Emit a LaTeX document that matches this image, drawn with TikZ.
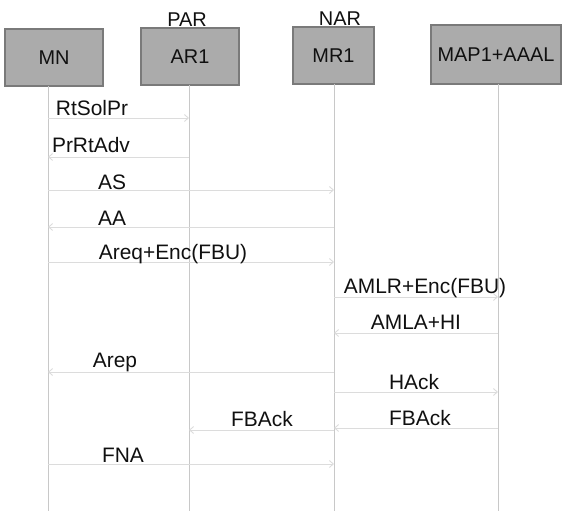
\documentclass[tikz,border=0pt]{standalone}
\usepackage{fontspec}
\setmainfont{Liberation Sans}
\usetikzlibrary{arrows.meta}
\definecolor{boxfill}{HTML}{ABABAB}
\definecolor{boxline}{HTML}{7A7A7A}
\definecolor{lifegray}{HTML}{C8C8C8}
\definecolor{msggray}{HTML}{DCDCDC}
\definecolor{ink}{HTML}{101010}
\begin{document}
\begin{tikzpicture}[x=1bp,y=-1bp,
  box/.style={draw=boxline, fill=boxfill, line width=1.2bp, inner sep=0pt, text=ink, font=\fontsize{20}{23}\selectfont},
  life/.style={draw=lifegray, line width=0.9bp},
  msg/.style={draw=msggray, line width=0.9bp, -{Straight Barb[length=4bp,width=7bp]}},
  lbl/.style={inner sep=0pt, text=ink, font=\fontsize{21}{24}\selectfont},
  role/.style={inner sep=0pt, text=ink, font=\fontsize{20}{23}\selectfont}]
\useasboundingbox (0,0) rectangle (564,511);
% participants
\node[box, minimum width=98bp, minimum height=57bp] (mn) at (54,57.5) {MN};
\node[box, minimum width=98bp, minimum height=57bp] (ar) at (190,56.5) {AR1};
\node[box, minimum width=81bp, minimum height=57bp] (mr) at (333.5,55.5) {MR1};
\node[box, minimum width=130bp, minimum height=59bp] (map) at (496,54.5) {MAP1+AAAL};
\node[role] (par) at (187,20) {PAR};
\node[role] (nar) at (340,19) {NAR};
% lifelines
\coordinate (mnL) at (48,86);   \coordinate (mnB) at (48,511);
\coordinate (arL) at (189,85);  \coordinate (arB) at (189,511);
\coordinate (mrL) at (334,84);  \coordinate (mrB) at (334,511);
\coordinate (mapL) at (498,84); \coordinate (mapB) at (498,511);
\draw[life] (mnL) -- (mnB);
\draw[life] (arL) -- (arB);
\draw[life] (mrL) -- (mrB);
\draw[life] (mapL) -- (mapB);
% messages
\draw[msg] (mnL |- 0,118) -- (arL |- 0,118);
\draw[msg] (arL |- 0,157) -- (mnL |- 0,157);
\draw[msg] (mnL |- 0,190) -- (mrL |- 0,190);
\draw[msg] (mrL |- 0,227) -- (mnL |- 0,227);
\draw[msg] (mnL |- 0,262) -- (mrL |- 0,262);
\draw[msg] (mrL |- 0,297) -- (mapL |- 0,297);
\draw[msg] (mapL |- 0,333) -- (mrL |- 0,333);
\draw[msg] (mrL |- 0,372) -- (mnL |- 0,372);
\draw[msg] (mrL |- 0,392) -- (mapL |- 0,392);
\draw[msg] (mapL |- 0,428) -- (mrL |- 0,428);
\draw[msg] (mrL |- 0,430) -- (arL |- 0,430);
\draw[msg] (mnL |- 0,464) -- (mrL |- 0,464);
% labels
\node[lbl] (l1) at (92,108) {RtSolPr};
\node[lbl] (l2) at (91,145) {PrRtAdv};
\node[lbl] (l3) at (112,182) {AS};
\node[lbl] (l4) at (112,218) {AA};
\node[lbl] (l5) at (173,254) {Areq+Enc(FBU)};
\node[lbl] (l6) at (425,288) {AMLR+Enc(FBU)};
\node[lbl] (l7) at (416,322) {AMLA+HI};
\node[lbl] (l8) at (115,362) {Arep};
\node[lbl] (l9) at (414,382) {HAck};
\node[lbl] (l10) at (420,418) {FBAck};
\node[lbl] (l11) at (262,419) {FBAck};
\node[lbl] (l12) at (123,455) {FNA};
\end{tikzpicture}
\end{document}
